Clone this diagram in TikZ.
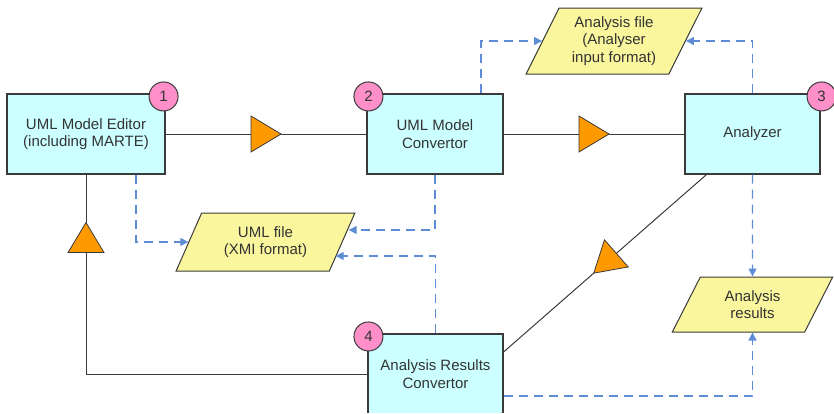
\documentclass[tikz,border=0pt]{standalone}
\usepackage{fontspec}
\setmainfont{Liberation Sans}
\usetikzlibrary{positioning, arrows.meta, decorations.markings, shapes.geometric}

\definecolor{boxcyan}{HTML}{CCFFFF}
\definecolor{fileyellow}{HTML}{FAF69E}
\definecolor{numpink}{HTML}{FF8FC8}
\definecolor{triorange}{HTML}{FF9900}
\definecolor{dashblue}{HTML}{5E8DD6}
\definecolor{linegray}{HTML}{3A3A3A}
\definecolor{textgray}{HTML}{333333}

\begin{document}
\begin{tikzpicture}[
	x=1pt,
	y=-1pt,
	tool/.style={rectangle, draw=linegray, line width=1.1pt, fill=boxcyan, align=center, text=textgray, font=\fontsize{15}{17.5}\selectfont, minimum height=80pt},
	datafile/.style={trapezium, trapezium left angle=63, trapezium right angle=117, trapezium stretches=true, draw=linegray, line width=1pt, fill=fileyellow, align=center, text=textgray, font=\fontsize{15}{17.5}\selectfont, inner sep=1pt},
	stepnum/.style={circle, draw=linegray, line width=1pt, fill=numpink, minimum size=29pt, inner sep=0pt, text=textgray, font=\fontsize{15}{17.5}\selectfont},
	flow/.style={draw=linegray, line width=1pt, postaction=decorate, decoration={markings, mark=at position #1 with {\draw[fill=triorange, draw=linegray, line width=0.8pt] (-15pt,-18pt) -- (15pt,0pt) -- (-15pt,18pt) -- cycle;}}},
	dataflow/.style={draw=dashblue, line width=1.3pt, dash pattern=on 9pt off 6pt, -{Triangle[length=8pt, width=8pt]}}
]

\useasboundingbox (0,0) rectangle (834,413);
\clip (0,0) rectangle (834,412);

\node [tool, minimum width=158pt] (editor) at (86,134) {UML Model Editor\\(including MARTE)};
\node [tool, minimum width=136pt] (convertor) at (435,134) {UML Model\\Convertor};
\node [tool, minimum width=135pt] (analyzer) at (752.5,134) {Analyzer};
\node [tool, minimum width=135pt] (resconv) at (435.5,374) {Analysis Results\\Convertor};

\node [datafile, minimum width=176pt, minimum height=66pt] (anafile) at (614,41) {Analysis file\\(Analyser\\input format)};
\node [datafile, minimum width=179pt, minimum height=58pt] (umlfile) at (265.5,242) {UML file\\(XMI format)};
\node [datafile, minimum width=161pt, minimum height=55pt] (results) at (752.5,304.5) {Analysis\\results};

\foreach \b/\a/\s [count=\n] in {editor/north east/-2, convertor/north west/2, analyzer/north east/1, resconv/north west/1}
	\node [stepnum] (num-\n) at ([xshift=\s pt, yshift=-3pt]\b.\a) {\n};

\draw [flow=0.5] (editor) -- (convertor);
\draw [flow=0.5] (convertor) -- (analyzer);
\draw [flow=0.5] ([xshift=-46pt]analyzer.south) -- ([yshift=22pt]resconv.east);
\draw [flow=0.869] (resconv.west) -| (editor.south);

\draw [dataflow] ([xshift=50pt]editor.south) |- (umlfile);
\draw [dataflow] (convertor.south) |- ([xshift=6pt, yshift=12pt]umlfile.east);
\draw [dataflow] (resconv.north) |- ([xshift=-7pt, yshift=-14pt]umlfile.east);
\draw [dataflow] ([xshift=46pt]convertor.north) |- (anafile);
\draw [dataflow] (analyzer.north) |- (anafile);
\draw [dataflow] (analyzer) -- (results);
\draw [dataflow] ([yshift=-22pt]resconv.east) -| (results.south);

\end{tikzpicture}
\end{document}
